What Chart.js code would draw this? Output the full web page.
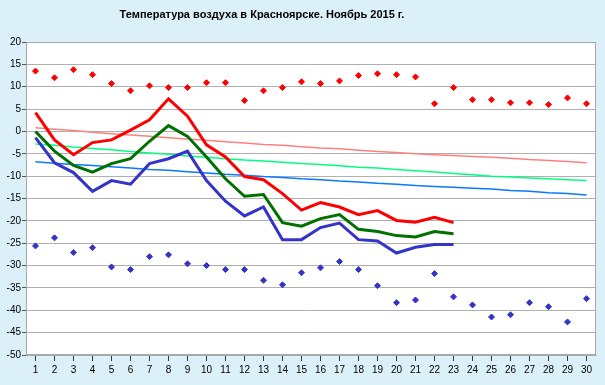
<!DOCTYPE html>
<html>
<head>
<meta charset="utf-8">
<script src="https://cdn.jsdelivr.net/npm/chart.js@4.4.1/dist/chart.umd.min.js"></script>
<style>
  html, body { margin: 0; padding: 0; background: #dbf0f8; }
  #wrap { width: 605px; height: 385px; position: relative; }
</style>
</head>
<body>
<div id="wrap"><canvas id="myChart"></canvas></div>
<script>
// Days of November 2015
const days = [];
for (let d = 1; d <= 30; d++) days.push(String(d));

const chartTitle = "Температура воздуха в Красноярске. Ноябрь 2015 г.";

// Absolute max / min records (diamonds)
const recordMax = [13.5, 12.0, 13.8, 12.7, 10.7, 9.1, 10.2, 9.8, 9.8, 10.9, 10.9, 6.9, 9.1, 9.8, 11.1,
  10.7, 11.3, 12.5, 12.9, 12.7, 12.2, 6.2, 9.8, 7.1, 7.1, 6.4, 6.4, 6.0, 7.5, 6.2];
const recordMin = [-25.6, -23.8, -27.1, -26.0, -30.3, -30.9, -28.0, -27.6, -29.6, -30.0, -30.9, -30.9, -33.3, -34.3, -31.6,
  -30.5, -29.1, -30.9, -34.5, -38.3, -37.7, -31.8, -37.0, -38.8, -41.5, -41.0, -38.3, -39.2, -42.6, -37.4];

// Observed max / mean / min temperatures (first 23 days)
const tempMax = [4.2, -1.9, -5.2, -2.5, -1.9, 0.3, 2.6, 7.3, 3.4, -3.0, -5.7, -10.1, -10.8, -13.9, -17.6,
  -15.9, -16.9, -18.6, -17.7, -19.9, -20.3, -19.2, -20.4];
const tempMean = [0.0, -4.4, -7.6, -9.1, -7.2, -6.1, -2.2, 1.3, -1.1, -5.7, -10.6, -14.5, -14.1, -20.4, -21.2,
  -19.5, -18.6, -21.9, -22.4, -23.3, -23.6, -22.4, -22.9];
const tempMin = [-1.4, -7.0, -9.2, -13.4, -11.0, -11.8, -7.2, -6.1, -4.4, -11.0, -15.6, -18.9, -16.9, -24.2, -24.2,
  -21.5, -20.5, -24.2, -24.5, -27.2, -25.9, -25.3, -25.3];

// Climate norms
const normMax = [0.8, 0.5, 0.2, -0.2, -0.5, -0.8, -1.1, -1.4, -1.7, -2.0, -2.3, -2.6, -2.9, -3.1, -3.4,
  -3.7, -3.9, -4.2, -4.5, -4.7, -5.0, -5.2, -5.4, -5.6, -5.8, -6.0, -6.3, -6.5, -6.7, -7.0];
const normMean = [-2.8, -3.1, -3.5, -3.8, -4.1, -4.5, -4.8, -5.1, -5.5, -5.8, -6.1, -6.4, -6.6, -6.9, -7.2,
  -7.4, -7.7, -8.0, -8.2, -8.5, -8.8, -9.1, -9.4, -9.7, -10.0, -10.2, -10.4, -10.6, -10.8, -11.0];
const normMin = [-6.8, -7.1, -7.4, -7.6, -7.9, -8.2, -8.5, -8.7, -9.0, -9.3, -9.6, -9.8, -10.1, -10.3, -10.6,
  -10.8, -11.1, -11.3, -11.6, -11.8, -12.1, -12.3, -12.5, -12.7, -12.9, -13.2, -13.4, -13.7, -13.9, -14.2];

// background + plot frame + title
const framePlugin = {
  id: "frame",
  beforeDraw(chart) {
    const ctx = chart.ctx;
    const a = chart.chartArea;
    ctx.save();
    ctx.fillStyle = "#dbf0f8";
    ctx.fillRect(0, 0, chart.width, chart.height);
    ctx.fillStyle = "#ffffff";
    ctx.fillRect(a.left, a.top, a.right - a.left, a.bottom - a.top);
    ctx.fillStyle = "#000000";
    ctx.font = "bold 11px 'Liberation Sans', Arial, sans-serif";
    ctx.textAlign = "center";
    ctx.textBaseline = "middle";
    ctx.fillText(chartTitle, 262, 15);
    ctx.restore();
  },
  afterDraw(chart) {
    const ctx = chart.ctx;
    const a = chart.chartArea;
    ctx.save();
    ctx.strokeStyle = "#a8a8a8";
    ctx.lineWidth = 1;
    ctx.strokeRect(a.left + 0.5, a.top + 0.5, a.right - a.left - 1, a.bottom - a.top - 1);
    ctx.restore();
  }
};

function lineSet(label, data, color, width, order) {
  return {
    label: label,
    data: data,
    borderColor: color,
    backgroundColor: color,
    borderWidth: width,
    pointRadius: 0,
    fill: false,
    tension: 0,
    order: order
  };
}

function dotSet(label, data, color) {
  return {
    label: label,
    data: data,
    showLine: false,
    borderColor: color,
    backgroundColor: color,
    pointStyle: "rectRot",
    pointRadius: 3,
    pointBorderWidth: 1,
    order: 0
  };
}

const ctx = document.getElementById("myChart");

new Chart(ctx, {
  type: "line",
  data: {
    labels: days,
    datasets: [
      lineSet("Норма max", normMax, "#ff8080", 1.5, 5),
      lineSet("Норма средняя", normMean, "#00ff80", 1.5, 5),
      lineSet("Норма min", normMin, "#0a78ff", 1.5, 5),
      lineSet("Максимальная", tempMax, "#ff0000", 3, 1),
      lineSet("Средняя", tempMean, "#007000", 3, 1),
      lineSet("Минимальная", tempMin, "#3434c8", 3, 1),
      dotSet("Абсолютный максимум", recordMax, "#ff0000"),
      dotSet("Абсолютный минимум", recordMin, "#3434c8")
    ]
  },
  options: {
    responsive: true,
    maintainAspectRatio: false,
    animation: false,
    layout: { padding: { top: 42, right: 9, left: 0, bottom: 0 } },
    plugins: {
      legend: { display: false },
      title: { display: false },
      tooltip: { enabled: false }
    },
    scales: {
      x: {
        offset: true,
        grid: {
          drawOnChartArea: false,
          drawTicks: true,
          tickLength: 6,
          color: "#333333"
        },
        border: { color: "#a8a8a8" },
        ticks: {
          color: "#000000",
          padding: 3,
          maxRotation: 0,
          autoSkip: false,
          font: { family: "'Liberation Sans', Arial, sans-serif", size: 10 }
        },
        afterFit(scale) { scale.height = 30; }
      },
      y: {
        min: -50,
        max: 20,
        ticks: {
          stepSize: 5,
          color: "#000000",
          padding: 1,
          font: { family: "'Liberation Sans', Arial, sans-serif", size: 10 }
        },
        grid: {
          color: "#b0b0b0",
          tickLength: 4,
          tickColor: "#555555"
        },
        border: { color: "#a8a8a8" },
        afterFit(scale) { scale.width = 26; }
      }
    }
  },
  plugins: [framePlugin]
});
</script>
</body>
</html>
